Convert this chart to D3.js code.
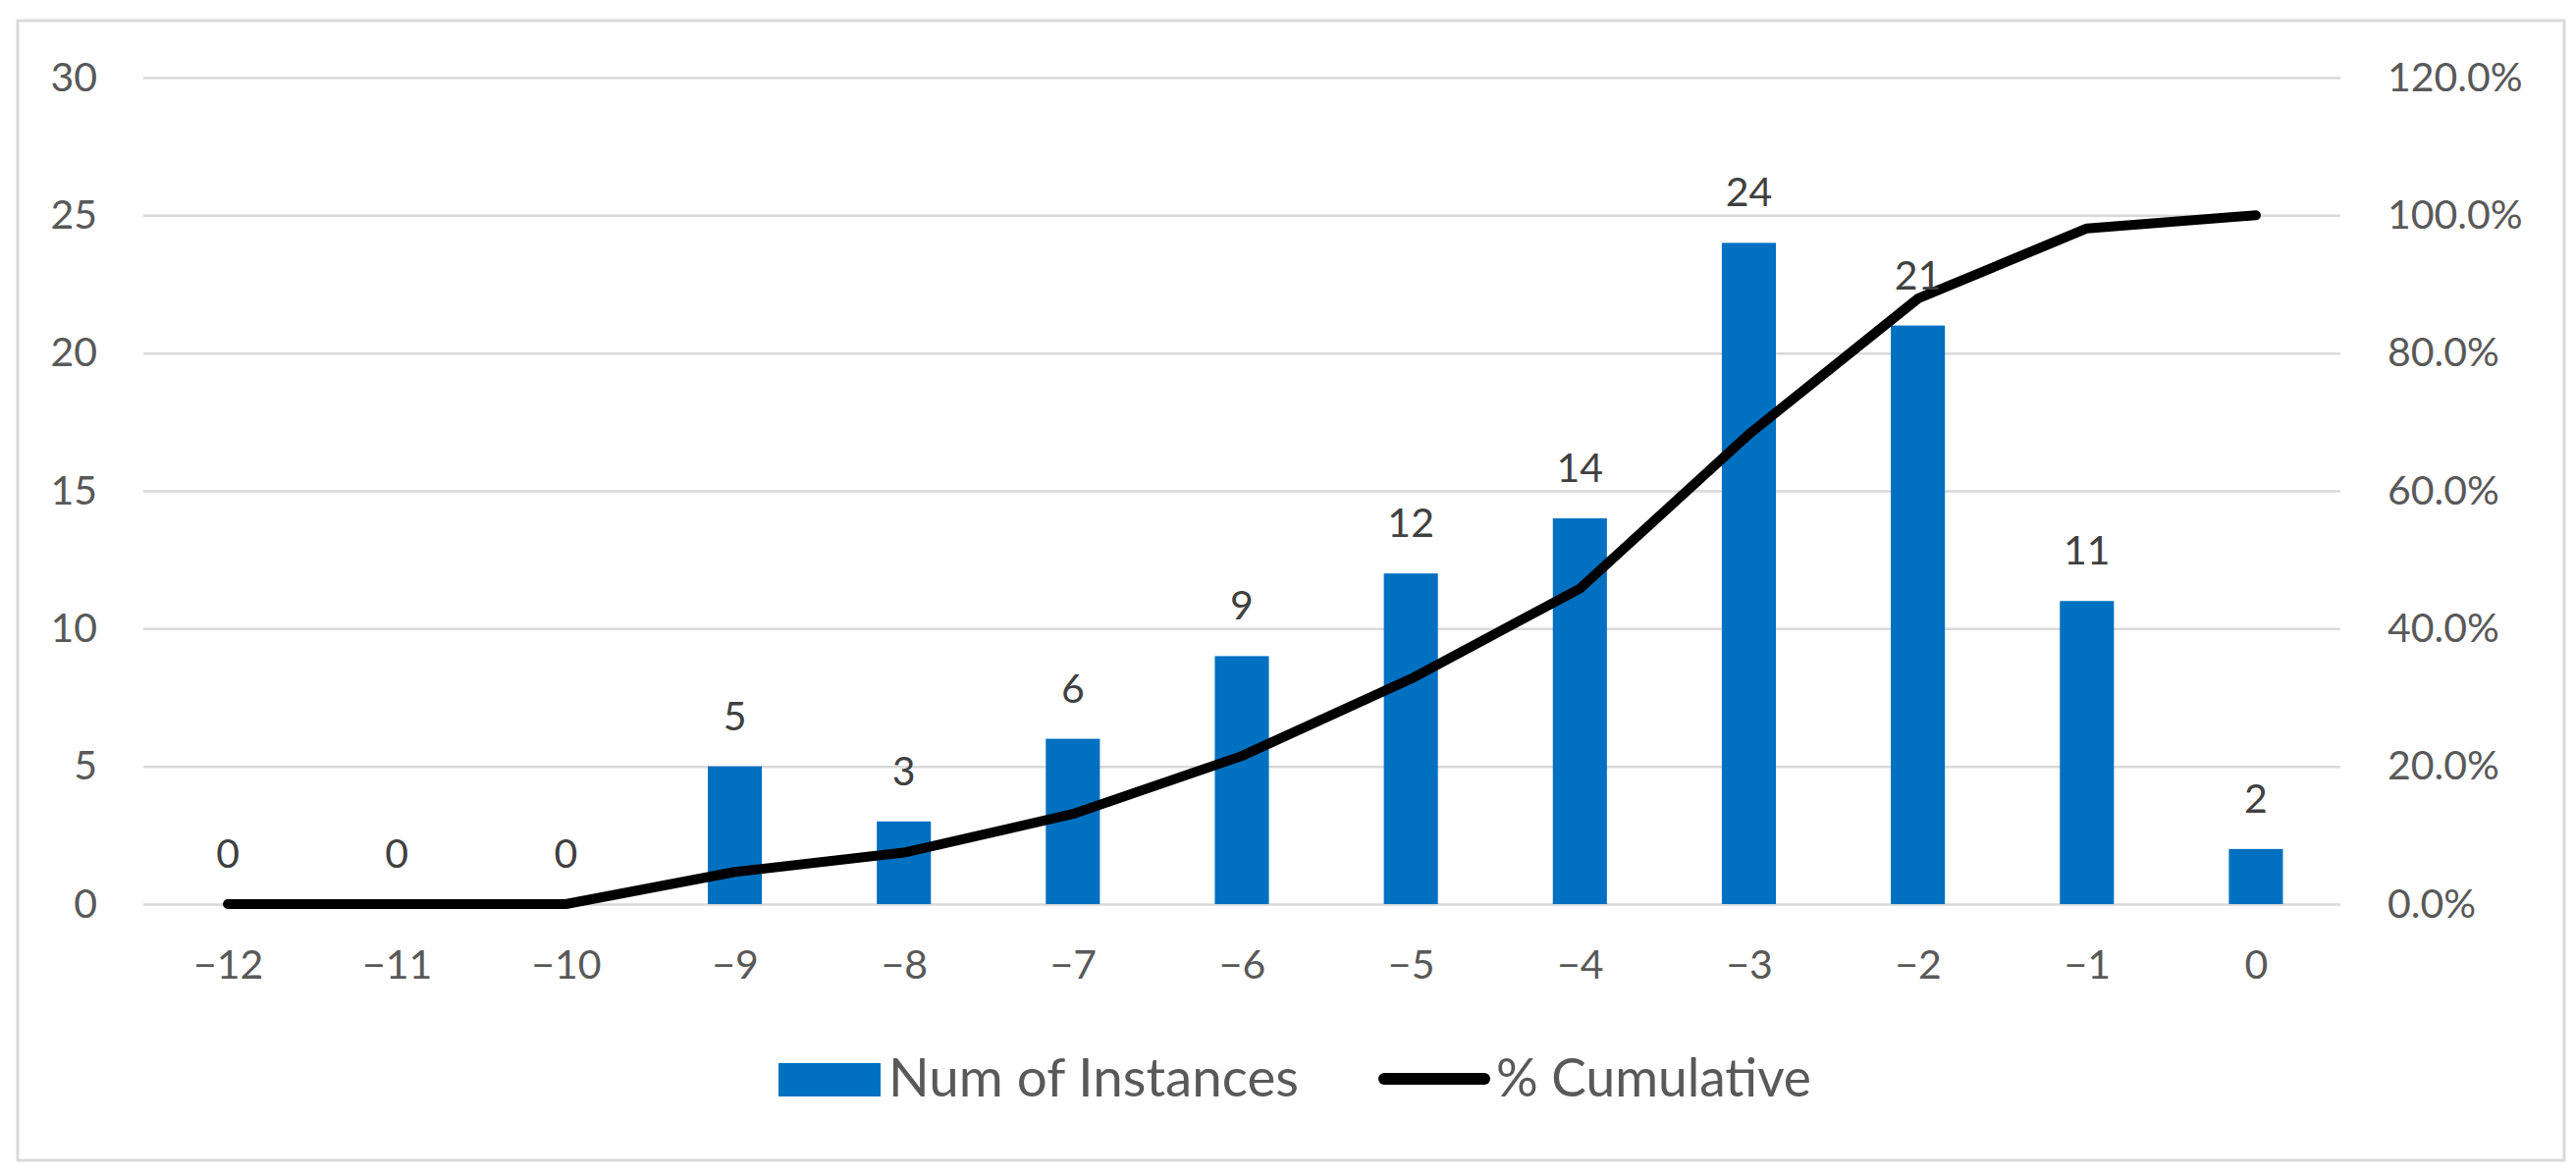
<!DOCTYPE html>
<html><head><meta charset="utf-8">
<script src="https://cdn.jsdelivr.net/npm/d3@7"></script>
<style>
html,body{margin:0;padding:0;background:#fff;}
svg{display:block;font-family:Lato,"Open Sans",sans-serif;}
</style></head>
<body>
<svg id="chart" width="2624" height="1198"></svg>
<script>
const categories = ["−12","−11","−10","−9","−8","−7","−6","−5","−4","−3","−2","−1","0"];
const instances = [0,0,0,5,3,6,9,12,14,24,21,11,2];
const cumulative = [0,0,0,0.0467,0.0748,0.1308,0.215,0.327,0.458,0.682,0.879,0.981,1.0];
const leftTicks = [0,5,10,15,20,25,30];
const rightTicks = [0,0.2,0.4,0.6,0.8,1.0,1.2];
const seriesNames = ["Num of Instances","% Cumulative"];

const W = 2624, H = 1198;
const plot = {left:146, right:2384, top:79, bottom:921};
const svg = d3.select("#chart");

svg.append("rect").attr("x",18).attr("y",21).attr("width",2594).attr("height",1161)
  .attr("fill","#fff").attr("stroke","#d9d9d9").attr("stroke-width",3);

const x = d3.scaleBand().domain(categories).range([plot.left, plot.right]).paddingInner(0.68).paddingOuter(0.34);
const xc = d3.scalePoint().domain(categories).range([plot.left, plot.right]).padding(0.5);
const yL = d3.scaleLinear().domain([0,30]).range([plot.bottom, plot.top]);
const yR = d3.scaleLinear().domain([0,1.2]).range([plot.bottom, plot.top]);

// gridlines
const grid = svg.append("g").attr("transform",`translate(${plot.left},0)`)
  .call(d3.axisLeft(yL).tickValues(leftTicks).tickSize(-(plot.right-plot.left)).tickFormat(""));
grid.select(".domain").remove();
grid.selectAll("line").attr("stroke","#d9d9d9").attr("stroke-width",2.5);

// left axis labels
const gl = svg.append("g").attr("transform",`translate(99,0)`)
  .call(d3.axisLeft(yL).tickValues(leftTicks).tickSize(0).tickPadding(0).tickFormat(d3.format("d")));
gl.select(".domain").remove();
gl.selectAll("text").attr("font-size",41).attr("fill","#595959").attr("font-family","Lato");

// right axis labels
const gr = svg.append("g").attr("transform",`translate(2432,0)`)
  .call(d3.axisRight(yR).tickValues(rightTicks).tickSize(0).tickPadding(0).tickFormat(d3.format(".1%")));
gr.select(".domain").remove();
gr.selectAll("text").attr("font-size",41).attr("fill","#595959").attr("font-family","Lato");

// bottom axis labels
const gb = svg.append("g").attr("transform",`translate(0,${plot.bottom})`)
  .call(d3.axisBottom(xc).tickSize(0).tickPadding(47));
gb.select(".domain").remove();
gb.selectAll("text").attr("font-size",41).attr("fill","#595959").attr("font-family","Lato");

// bars
svg.append("g").selectAll("rect").data(instances).join("rect")
  .attr("x",(d,i)=>x(categories[i]))
  .attr("width",x.bandwidth())
  .attr("y",d=>yL(d))
  .attr("height",d=>yL(0)-yL(d))
  .attr("fill","#0070C0");

// line
const line = d3.line().x((d,i)=>xc(categories[i])).y(d=>yR(d));
svg.append("path").datum(cumulative).attr("d",line)
  .attr("fill","none").attr("stroke","#000").attr("stroke-width",10)
  .attr("stroke-linecap","round").attr("stroke-linejoin","round");

// data labels
svg.append("g").selectAll("text").data(instances).join("text")
  .attr("x",(d,i)=>xc(categories[i]))
  .attr("y",d=>yL(d)-37)
  .attr("text-anchor","middle")
  .attr("font-size",41).attr("fill","#404040")
  .text(d=>d);

// legend
const lg = svg.append("g");
lg.append("rect").attr("x",793).attr("y",1083).attr("width",104).attr("height",34).attr("fill","#0070C0");
lg.append("text").attr("x",905).attr("y",1117).attr("font-size",54).attr("fill","#595959")
  .attr("textLength",418).attr("lengthAdjust","spacingAndGlyphs").text(seriesNames[0]);
lg.append("line").attr("x1",1410).attr("x2",1512).attr("y1",1099).attr("y2",1099)
  .attr("stroke","#000").attr("stroke-width",12).attr("stroke-linecap","round");
lg.append("text").attr("x",1524).attr("y",1117).attr("font-size",54).attr("fill","#595959")
  .attr("textLength",321).attr("lengthAdjust","spacingAndGlyphs").text(seriesNames[1]);
</script>
</body></html>
